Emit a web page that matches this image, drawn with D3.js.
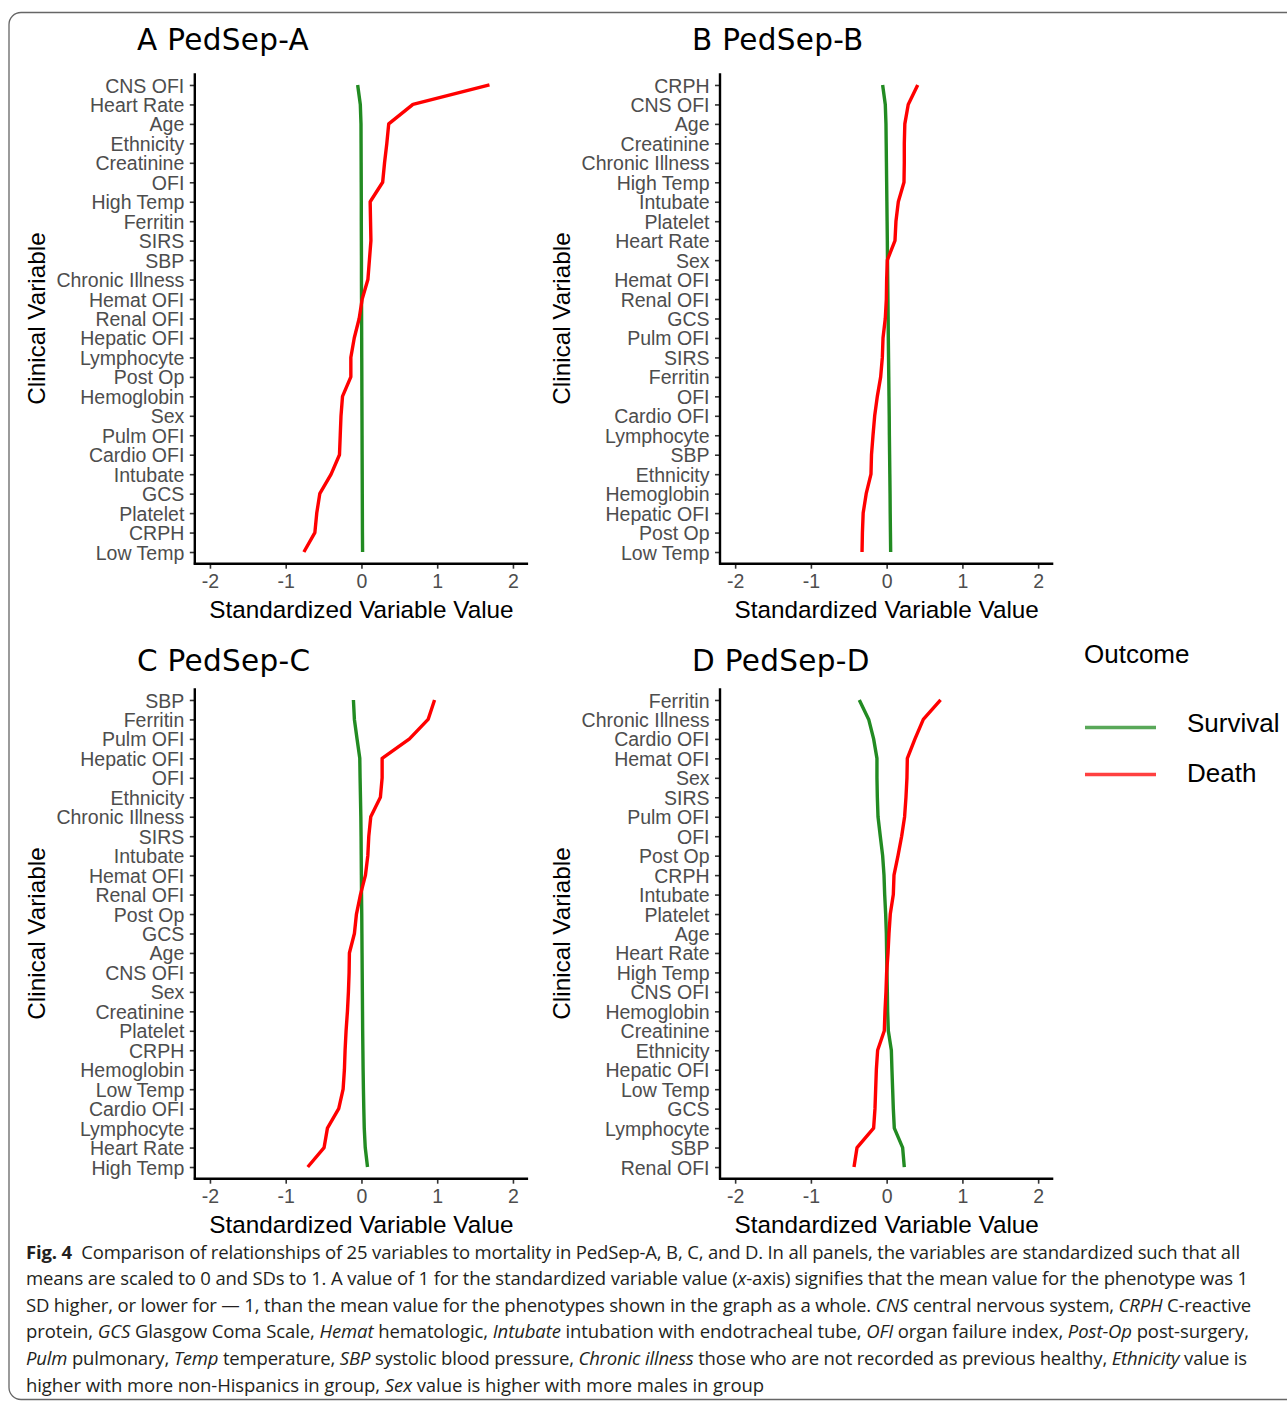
<!DOCTYPE html>
<html>
<head>
<meta charset="utf-8">
<script src="https://d3js.org/d3.v7.min.js"></script>
<style>
  body { margin: 0; background: #fff; }
  svg { display: block; }
  .tick text { font-family: "Liberation Sans", Arial, sans-serif; fill: #4d4d4d; }
</style>
</head>
<body>
<svg width="1287" height="1402"></svg>
<script>
// ---- data ----
var catsA = ["CNS OFI","Heart Rate","Age","Ethnicity","Creatinine","OFI","High Temp","Ferritin","SIRS","SBP","Chronic Illness","Hemat OFI","Renal OFI","Hepatic OFI","Lymphocyte","Post Op","Hemoglobin","Sex","Pulm OFI","Cardio OFI","Intubate","GCS","Platelet","CRPH","Low Temp"];
var deathA = [1.69,0.68,0.36,0.335,0.305,0.28,0.115,0.12,0.125,0.105,0.085,0.01,-0.03,-0.095,-0.14,-0.14,-0.25,-0.27,-0.28,-0.29,-0.40,-0.55,-0.59,-0.615,-0.76];
var survA = [-0.05,-0.015,-0.006,-0.005,-0.004,-0.003,-0.002,-0.002,-0.001,0,0,0.001,0.002,0.003,0.004,0.005,0.006,0.007,0.008,0.009,0.010,0.011,0.012,0.013,0.015];

var catsB = ["CRPH","CNS OFI","Age","Creatinine","Chronic Illness","High Temp","Intubate","Platelet","Heart Rate","Sex","Hemat OFI","Renal OFI","GCS","Pulm OFI","SIRS","Ferritin","OFI","Cardio OFI","Lymphocyte","SBP","Ethnicity","Hemoglobin","Hepatic OFI","Post Op","Low Temp"];
var deathB = [0.41,0.285,0.24,0.233,0.233,0.229,0.154,0.123,0.11,0.009,0.0,-0.004,-0.018,-0.048,-0.057,-0.079,-0.123,-0.158,-0.18,-0.2,-0.207,-0.27,-0.31,-0.32,-0.325];
var survB = [-0.053,-0.018,-0.009,-0.006,-0.003,0,0.003,0.006,0.009,0.011,0.014,0.017,0.02,0.022,0.025,0.028,0.031,0.034,0.036,0.039,0.042,0.045,0.047,0.05,0.053];

var catsC = ["SBP","Ferritin","Pulm OFI","Hepatic OFI","OFI","Ethnicity","Chronic Illness","SIRS","Intubate","Hemat OFI","Renal OFI","Post Op","GCS","Age","CNS OFI","Sex","Creatinine","Platelet","CRPH","Hemoglobin","Low Temp","Cardio OFI","Lymphocyte","Heart Rate","High Temp"];
var deathC = [0.965,0.88,0.634,0.273,0.273,0.25,0.123,0.097,0.084,0.053,-0.013,-0.066,-0.093,-0.159,-0.163,-0.172,-0.185,-0.203,-0.216,-0.225,-0.242,-0.30,-0.449,-0.493,-0.709];
var survC = [-0.106,-0.093,-0.058,-0.022,-0.018,-0.013,-0.008,-0.005,-0.003,-0.001,0.001,0.004,0.006,0.008,0.01,0.012,0.014,0.016,0.019,0.022,0.026,0.031,0.037,0.05,0.08];

var catsD = ["Ferritin","Chronic Illness","Cardio OFI","Hemat OFI","Sex","SIRS","Pulm OFI","OFI","Post Op","CRPH","Intubate","Platelet","Age","Heart Rate","High Temp","CNS OFI","Hemoglobin","Creatinine","Ethnicity","Hepatic OFI","Low Temp","GCS","Lymphocyte","SBP","Renal OFI"];
var deathD = [0.712,0.484,0.374,0.273,0.268,0.255,0.237,0.198,0.15,0.097,0.088,0.048,0.031,0.018,0,-0.009,-0.022,-0.031,-0.119,-0.136,-0.145,-0.154,-0.172,-0.391,-0.431];
var survD = [-0.361,-0.237,-0.172,-0.128,-0.128,-0.123,-0.114,-0.084,-0.053,-0.035,-0.026,-0.013,-0.004,0,0.004,0.009,0.013,0.022,0.062,0.07,0.079,0.088,0.101,0.211,0.233];

var xTicks = [-2, -1, 0, 1, 2];
var outcomes = ["Survival", "Death"];
var colors = {Survival: "#228b22", Death: "#ff0000"};

var panels = [
  {title: "A PedSep-A", cats: catsA, death: deathA, surv: survA, left: 194.8, top: 73.3, tx: 137, ty: 50},
  {title: "B PedSep-B", cats: catsB, death: deathB, surv: survB, left: 720, top: 73.3, tx: 692, ty: 50},
  {title: "C PedSep-C", cats: catsC, death: deathC, surv: survC, left: 194.8, top: 688.3, tx: 137, ty: 671},
  {title: "D PedSep-D", cats: catsD, death: deathD, surv: survD, left: 720, top: 688.3, tx: 692, ty: 671}
];
var pw = 333.3, ph = 490.4;

var svg = d3.select("svg");

// rounded frame
svg.append("rect")
  .attr("x", 9).attr("y", 12.5)
  .attr("width", 1300).attr("height", 1387)
  .attr("rx", 12)
  .attr("fill", "none").attr("stroke", "#666").attr("stroke-width", 1.3);

panels.forEach(function(p) {
  var g = svg.append("g").attr("transform", "translate(" + p.left + "," + p.top + ")");

  var x = d3.scaleLinear().domain([-2.2, 2.2]).range([0, pw]);
  var y = d3.scalePoint().domain(p.cats).range([0, ph]).padding(0.6);

  var line = d3.line()
    .x(function(d) { return x(d.v); })
    .y(function(d) { return y(d.c); });

  [["Survival", p.surv], ["Death", p.death]].forEach(function(s) {
    var pts = p.cats.map(function(c, i) { return {c: c, v: s[1][i]}; });
    g.append("path")
      .datum(pts)
      .attr("d", line)
      .attr("fill", "none")
      .attr("stroke", colors[s[0]])
      .attr("stroke-width", 3.4)
      .attr("stroke-linejoin", "round");
  });

  // axes
  var yAxis = g.append("g").call(d3.axisLeft(y).tickSize(5).tickPadding(5.5));
  var xAxis = g.append("g").attr("transform", "translate(0," + ph + ")")
    .call(d3.axisBottom(x).tickValues(xTicks).tickSize(5).tickPadding(4)
      .tickFormat(function(d) { return d < 0 ? "-" + Math.abs(d) : d; }));

  [yAxis, xAxis].forEach(function(a) {
    a.select(".domain").remove();
    a.selectAll(".tick line").attr("stroke", "#333").attr("stroke-width", 1.6);
    a.selectAll(".tick text").attr("font-size", 19.5).attr("fill", "#4d4d4d");
  });
  xAxis.selectAll(".tick text").attr("dy", "0.8em");
  yAxis.selectAll(".tick text").attr("dy", "0.36em");

  // axis lines
  g.append("line").attr("x1", 0).attr("x2", 0).attr("y1", 0).attr("y2", ph + 1)
    .attr("stroke", "#000").attr("stroke-width", 2.4);
  g.append("line").attr("x1", -1).attr("x2", pw).attr("y1", ph).attr("y2", ph)
    .attr("stroke", "#000").attr("stroke-width", 2.4);

  g.append("text")
    .attr("x", pw / 2).attr("y", ph + 54)
    .attr("text-anchor", "middle")
    .attr("font-family", "Liberation Sans, Arial, sans-serif")
    .attr("font-size", 24.3)
    .attr("fill", "#000")
    .text("Standardized Variable Value");

  g.append("text")
    .attr("transform", "translate(" + (-150) + "," + (ph / 2) + ") rotate(-90)")
    .attr("text-anchor", "middle")
    .attr("font-family", "Liberation Sans, Arial, sans-serif")
    .attr("font-size", 24.3)
    .attr("fill", "#000")
    .text("Clinical Variable");

  // panel title
  svg.append("text")
    .attr("x", p.tx).attr("y", p.ty)
    .attr("font-family", "DejaVu Sans, Verdana, sans-serif")
    .attr("font-size", 29.5)
    .attr("letter-spacing", 0.3)
    .attr("fill", "#000")
    .text(p.title);
});

// legend
var leg = svg.append("g").attr("transform", "translate(1084,0)");
leg.append("text").attr("x", 0).attr("y", 663)
  .attr("font-family", "Liberation Sans, Arial, sans-serif")
  .attr("font-size", 26).attr("fill", "#000").text("Outcome");
outcomes.forEach(function(o, i) {
  leg.append("line").attr("x1", 1).attr("x2", 72)
    .attr("y1", 727.5 + i * 47).attr("y2", 727.5 + i * 47)
    .attr("stroke", colors[o]).attr("stroke-width", 3.4).attr("stroke-opacity", 0.75);
  leg.append("text").attr("x", 103).attr("y", 732 + i * 50)
    .attr("font-family", "Liberation Sans, Arial, sans-serif")
    .attr("font-size", 26).attr("fill", "#000").text(o);
});

// caption
var caption = [
  {w: 1214, parts: [["Fig. 4", "b"], ["\u00a0 Comparison of relationships of 25 variables to mortality in PedSep-A, B, C, and D. In all panels, the variables are standardized such that all", ""]]},
  {w: 1222, parts: [["means are scaled to 0 and SDs to 1. A value of 1 for the standardized variable value (", ""], ["x", "i"], ["-axis) signifies that the mean value for the phenotype was 1", ""]]},
  {w: 1225, parts: [["SD higher, or lower for \u2014 1, than the mean value for the phenotypes shown in the graph as a whole. ", ""], ["CNS", "i"], [" central nervous system, ", ""], ["CRPH", "i"], [" C-reactive", ""]]},
  {w: 1223, parts: [["protein, ", ""], ["GCS", "i"], [" Glasgow Coma Scale, ", ""], ["Hemat", "i"], [" hematologic, ", ""], ["Intubate", "i"], [" intubation with endotracheal tube, ", ""], ["OFI", "i"], [" organ failure index, ", ""], ["Post-Op", "i"], [" post-surgery,", ""]]},
  {w: 1221, parts: [["Pulm", "i"], [" pulmonary, ", ""], ["Temp", "i"], [" temperature, ", ""], ["SBP", "i"], [" systolic blood pressure, ", ""], ["Chronic illness", "i"], [" those who are not recorded as previous healthy, ", ""], ["Ethnicity", "i"], [" value is", ""]]},
  {w: 738, parts: [["higher with more non-Hispanics in group, ", ""], ["Sex", "i"], [" value is higher with more males in group", ""]]}
];
caption.forEach(function(l, i) {
  var t = svg.append("text")
    .attr("x", 26).attr("y", 1258.5 + i * 26.6)
    .attr("font-family", "Open Sans, Noto Sans, sans-serif")
    .attr("font-size", 18.5)
    .attr("fill", "#231f20");
  l.parts.forEach(function(s) {
    var ts = t.append("tspan").text(s[0]);
    if (s[1] === "b") ts.attr("font-weight", "bold");
    if (s[1] === "i") ts.attr("font-style", "italic");
  });
  // fit line width with letter spacing instead of glyph squeezing
  var n = l.parts.reduce(function(a, s) { return a + s[0].length; }, 0);
  var w = t.node().getComputedTextLength();
  t.attr("letter-spacing", ((l.w - w) / n).toFixed(3));
});
</script>
</body>
</html>
